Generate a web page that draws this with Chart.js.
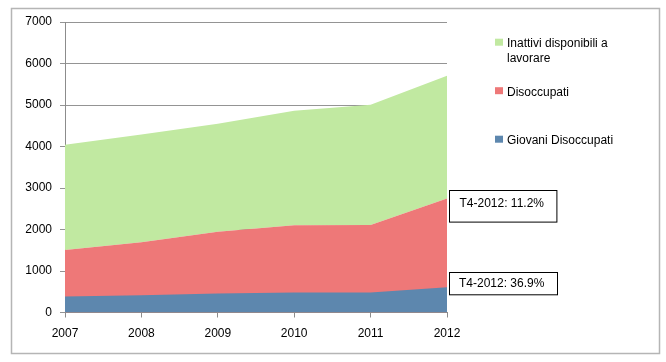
<!DOCTYPE html>
<html><head><meta charset="utf-8">
<script src="https://cdn.jsdelivr.net/npm/chart.js@4.4.1/dist/chart.umd.min.js"></script>
<style>html,body{margin:0;padding:0;background:#fff}canvas{display:block}</style>
</head><body>
<canvas id="c" width="666" height="362"></canvas>
<script>
// ---- data (thousands) ----
const years = ['2007', '2008', '2009', '2010', '2011', '2012'];
const giovaniDisoccupati = [383, 417, 456, 480, 482, 608];
const disoccupati = [1506, 1692, 1945, 2102, 2108, 2744];
const inattiviDisponibili = [2535, 2598, 2603, 2760, 2898, 2960];
const yTickValues = [0, 1000, 2000, 3000, 4000, 5000, 6000, 7000];
const seriesNames = ['Giovani Disoccupati', 'Disoccupati', 'Inattivi disponibili a lavorare'];
const noteTexts = ['T4-2012: 36.9%', 'T4-2012: 11.2%'];   // attached to series 0 and 1, last point

// ---- styles ----
const colors = ['#5d87ae', '#ee7878', '#c1e9a1'];
const FONT = '"Liberation Sans", Arial, sans-serif';
const noteStyle = [
  { dx: 1.5, dy: -15.7, w: 108, h: 22.3, tx: 9.5, ty: 11.6 },
  { dx: 1.5, dy: -8.7, w: 107.4, h: 31.6, tx: 10, ty: 13.3 }
];

const decorPlugin = {
  id: 'decor',
  afterDraw(chart) {
    const ctx = chart.ctx;
    const area = chart.chartArea;
    ctx.save();
    // outer frame
    ctx.strokeStyle = '#b5b5b5';
    ctx.lineWidth = 1.5;
    ctx.strokeRect(11.5, 8.5, 648, 345);

    // legend (reverse order: top series first)
    ctx.font = '12px ' + FONT;
    ctx.textBaseline = 'middle';
    ctx.textAlign = 'left';
    const lx = area.right + 48;
    const ys = [area.top + 21.7, area.top + 70.2, area.top + 118.7];
    const order = [2, 1, 0];
    order.forEach((di, k) => {
      const words = seriesNames[di].split(' ');
      const lines = [];
      let cur = '';
      words.forEach(w => {
        const t = cur ? cur + ' ' + w : w;
        if (ctx.measureText(t).width > 112 && cur) { lines.push(cur); cur = w; } else cur = t;
      });
      if (cur) lines.push(cur);
      const y = ys[k];
      ctx.fillStyle = colors[di];
      ctx.fillRect(lx, y - 5, 8, 7);
      ctx.fillStyle = '#000';
      lines.forEach((ln, j) => ctx.fillText(ln, lx + 12, y + j * 15));
    });

    // notes
    noteTexts.forEach((txt, di) => {
      const meta = chart.getDatasetMeta(di);
      const pt = meta.data[meta.data.length - 1];
      const s = noteStyle[di];
      const bx = Math.round(pt.x + s.dx) + 0.5;
      const by = Math.round(pt.y + s.dy) + 0.5;
      ctx.fillStyle = '#fff';
      ctx.fillRect(bx, by, s.w, s.h);
      ctx.strokeStyle = '#000';
      ctx.lineWidth = 1;
      ctx.strokeRect(bx, by, s.w, s.h);
      ctx.fillStyle = '#000';
      ctx.fillText(txt, bx + s.tx, by + s.ty);
    });
    ctx.restore();
  }
};

new Chart(document.getElementById('c'), {
  type: 'line',
  data: {
    labels: years,
    datasets: [
      { label: seriesNames[0], data: giovaniDisoccupati, stack: 'a', fill: 'origin',
        backgroundColor: colors[0], borderWidth: 0, pointRadius: 0, tension: 0 },
      { label: seriesNames[1], data: disoccupati, stack: 'b', fill: 'origin',
        backgroundColor: colors[1], borderWidth: 0, pointRadius: 0, tension: 0 },
      { label: seriesNames[2], data: inattiviDisponibili, stack: 'b', fill: '-1',
        backgroundColor: colors[2], borderWidth: 0, pointRadius: 0, tension: 0 }
    ]
  },
  options: {
    responsive: false,
    animation: false,
    layout: { padding: { left: 0, right: 219, top: 22, bottom: 19.5 } },
    plugins: { legend: { display: false }, tooltip: { enabled: false } },
    scales: {
      x: {
        type: 'category',
        offset: false,
        grid: { drawOnChartArea: false, drawTicks: true, tickLength: 5, color: '#8c8c8c' },
        border: { color: '#8c8c8c' },
        ticks: { color: '#000', font: { family: FONT, size: 12 }, padding: 9, maxRotation: 0 },
        afterFit(scale) { scale.height = 30; }
      },
      y: {
        stacked: true,
        min: 0, max: 7000,
        z: 1,
        afterBuildTicks(scale) { scale.ticks = yTickValues.map(v => ({ value: v })); },
        grid: { color: 'rgba(0,0,0,0.42)', tickLength: 5, lineWidth: 1 },
        border: { color: '#8c8c8c' },
        ticks: { color: '#000', font: { family: FONT, size: 12 }, padding: 8,
                 callback: v => String(v) },
        afterFit(scale) { scale.width = 65; }
      }
    }
  },
  plugins: [decorPlugin]
});
</script>
</body></html>
